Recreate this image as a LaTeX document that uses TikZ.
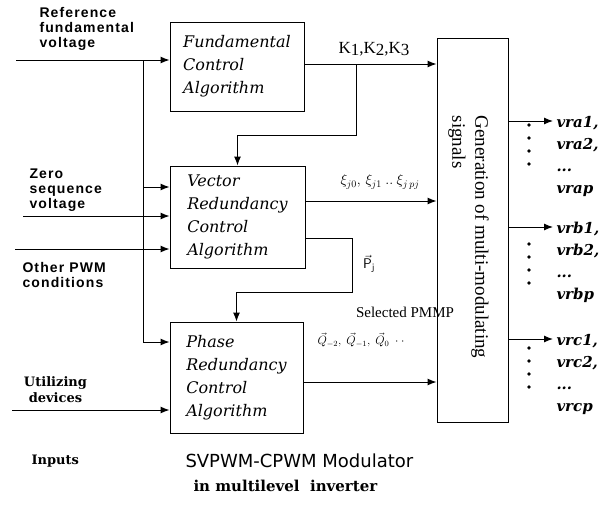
\documentclass[tikz,border=0pt]{standalone}
\usepackage{fontspec}
\setmainfont{Liberation Serif}
\newfontfamily\dvserif{DejaVu Serif}
\newfontfamily\dvsans{DejaVu Sans}
\newfontfamily\lbsans[LetterSpace=8]{Liberation Sans}
\usetikzlibrary{positioning,calc,arrows.meta}
\newcommand{\lowd}[1]{\raisebox{-2.5pt}{#1}}

\begin{document}
\begin{tikzpicture}[
    x=1pt, y=-1pt,
    line width=1pt,
    >={Latex[length=9pt,width=7pt]},
    block/.style={
        draw,
        align=left,
        font=\dvserif\itshape\fontsize{16}{23}\selectfont
    },
    inlabel/.style={
        anchor=west,
        align=left,
        inner sep=0pt,
        font=\lbsans\bfseries\fontsize{14}{15}\selectfont
    },
    outlabel/.style={
        anchor=base west,
        inner sep=0pt,
        font=\dvserif\bfseries\itshape\fontsize{15}{15}\selectfont
    },
    serifbold/.style={
        inner sep=0pt,
        font=\dvserif\bfseries\fontsize{13}{16}\selectfont
    }
]
\useasboundingbox (0,0) rectangle (604,506);

\node[block, minimum width=134pt, minimum height=89pt] (fund) at (237,66.5)
{Fundamental\\Control\\Algorithm};
\node[block, minimum width=135pt, minimum height=102pt] (vec) at (237.5,217)
{Vector\\Redundancy\\Control\\Algorithm};
\node[block, minimum width=133pt, minimum height=111pt] (phase) at (236.5,377.5)
{Phase\\Redundancy\\Control\\Algorithm};
\node[draw, minimum width=71pt, minimum height=384pt] (gen) at (472.5,230) {};
\node[rotate=-90, align=left, font=\fontsize{19}{23}\selectfont] (gentext) at (468.5,237)
{Generation of multi-modulating\\signals};

\node[inlabel] (refl) at (39,29) {Reference\\fundamental\\voltage};
\node[inlabel] (zerol) at (29,190) {Zero\\sequence\\voltage};
\node[inlabel] (pwml) at (22,274.5) {Other PWM\\conditions};
\node[serifbold, align=center] (utill) at (55.5,390) {Utilizing\\devices};

\coordinate (refin) at (16,60);
\coordinate (tap) at (143,60);
\coordinate (tapv) at (143,187);
\coordinate (tapp) at (143,342);
\coordinate (zeroin) at (23,216);
\coordinate (pwmin) at (15,249);
\coordinate (utilin) at (12,410);
\draw[->] (refin) -- (refin -| fund.west);
\draw[->] (tap) -- (tapp) -- (tapp -| phase.west);
\draw[->] (tapv) -- (tapv -| vec.west);
\draw[->] (zeroin) -- (zeroin -| vec.west);
\draw[->] (pwmin) -- (pwmin -| vec.west);
\draw[->] (utilin) -- (utilin -| phase.west);

\coordinate (ky) at (0,64);
\coordinate (xiy) at (0,201);
\coordinate (pjy) at (0,238);
\coordinate (qy) at (0,382);
\coordinate (kfb) at (356,64);
\coordinate (kfc) at (356,135);
\coordinate (pjc) at (352,292);
\draw[->] (fund.east |- ky) -- (gen.west |- ky);
\draw[->] (kfb) -- (kfc) -| (vec.north);
\draw[->] (vec.east |- xiy) -- (gen.west |- xiy);
\draw[->] (vec.east |- pjy) -| (pjc) -| (phase.north);
\draw[->] (phase.east |- qy) -- (gen.west |- qy);

\node[font=\fontsize{17}{17}\selectfont] (klab) at (374,49) {K\lowd{1},K\lowd{2},K\lowd{3}};
\node[font=\fontsize{14}{14}\selectfont] (xilab) at (380,182) {$\xi_{j0},\,\xi_{j1}\ ..\ \xi_{j\,pj}$};
\node[font=\fontsize{14}{14}\selectfont] (pjlab) at (369,264) {$\vec{\mathsf{P}}_{\mathsf{j}}$};
\node[font=\fontsize{15}{15}\selectfont] (sellab) at (405,312) {Selected PMMP};
\node[font=\fontsize{12}{12}\selectfont] (qlab) at (361,340) {$\vec{Q}_{-2},\ \vec{Q}_{-1},\ \vec{Q}_{0}\ \cdot\cdot$};

\foreach \n/\y/\s in {a/121/4,b/227/17,c/339/9} {
    \coordinate (out\n) at (553,\y);
    \draw[->] (gen.east |- out\n) -- (out\n);
    \node[outlabel] (\n1) at (556,\y+6) {vr\n1,};
    \node[outlabel] (\n2) at (556,\y+28) {vr\n2,};
    \node[outlabel] (\n3) at (556,\y+50) {...};
    \node[outlabel] (\n4) at (556,\y+72) {vr\n p};
    \foreach \k in {0,...,3}
        \fill (529,{\y+\s+13*\k}) circle (1.8pt);
}

\node[serifbold, anchor=west] (inputs) at (31,461) {Inputs};
\node[anchor=west, inner sep=0pt, font=\dvsans\fontsize{18}{18}\selectfont] (title) at (185,461) {SVPWM-CPWM Modulator};
\node[anchor=west, inner sep=0pt, font=\dvserif\bfseries\fontsize{15}{15}\selectfont] (subtitle) at (193,486) {in multilevel\ \ inverter};
\end{tikzpicture}
\end{document}
